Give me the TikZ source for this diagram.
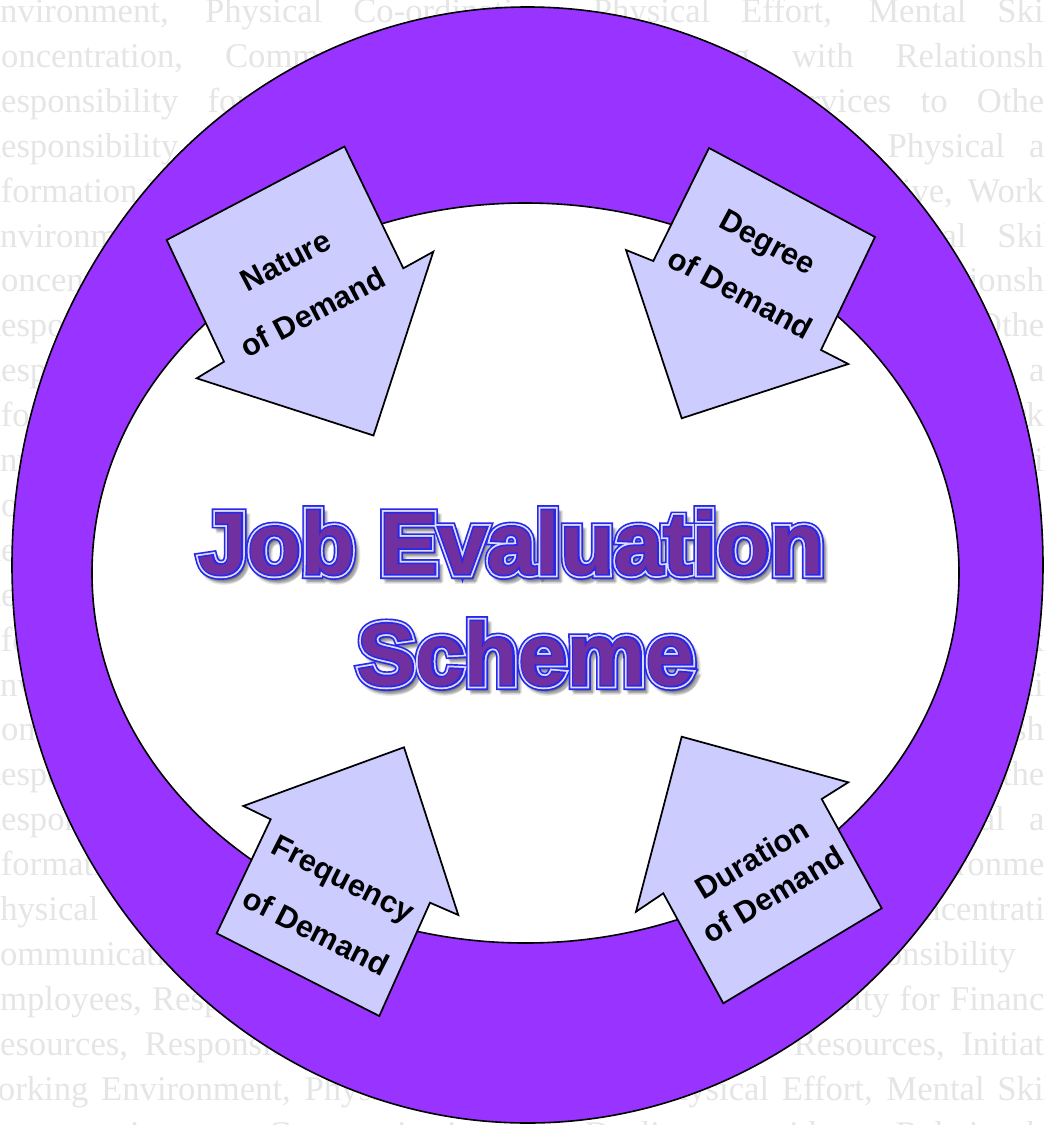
\documentclass[tikz,border=0pt]{standalone}
\usepackage{fontspec}
\setmainfont{Liberation Serif}
\newfontfamily\labelsans{Liberation Sans}
% title layers: the same bold face, stroked by different amounts
\newfontfamily\ttlouter{Liberation Sans}[BoldFeatures={FakeBold=11.5}]
\newfontfamily\ttlmid{Liberation Sans}[BoldFeatures={FakeBold=7.7}]
\newfontfamily\ttlinner{Liberation Sans}[BoldFeatures={FakeBold=3.7}]
\newfontfamily\ttlshadow{Liberation Sans}[BoldFeatures={FakeBold=9}]

\definecolor{ringviolet}{RGB}{153,51,255}
\definecolor{arrowfill}{RGB}{204,204,255}
\definecolor{titlefill}{RGB}{112,48,160}
\definecolor{titleblue}{RGB}{40,40,235}
\definecolor{titlelight}{RGB}{220,220,255}
\definecolor{bgtextgray}{RGB}{229,229,229}

\newdimen\pxu \pxu=0.75pt
\newcommand\bgfont{\fontsize{26}{30}\selectfont}
\newcommand\titlesize{\fontsize{66}{72}\selectfont}

% one justified line of the background paragraph
\newcommand\bgline[4]{%
  \node[bgtext] (bg#1) at (#2,{22.5+44.9*#1}) {\makebox[#3\pxu][s]{#4}};}
% a line whose slack sits in one place only
\newcommand\bglinefill[4]{%
  \node[bgtext] (bg#1) at (#2,{22.5+44.9*#1}) {\makebox[#3\pxu][l]{#4}};}

\newcommand\gapB{\hspace{31.5pt}}
\newcommand\txtA{Environment, Physical Co-ordination, Physical Effort, Mental Skills,}
\newcommand\txtB{Concentration,\gapB Communication,\hfill Dealing\gapB with\gapB Relationships,}
\newcommand\txtC{Responsibility for Employees, Responsibility for Services to Others,}
\newcommand\txtD{Responsibility for Financial Resources, Responsibility for Physical and}
\newcommand\txtE{Information Resources,\hfill Initiative,\hspace{11pt}Working}

% one line of the stroked title: shadow, blue/light/blue outline, purple face
\newcommand\titleline[4]{%
  \begin{scope}[opacity=0.09]
    \foreach \dx/\dy [count=\i] in {1/2,2/3,3/4,4/5,3/6,5/4}
      \node[titlelayer, text=black] (#1-shadow\i) at (#2+\dx,#3+\dy) {\ttlshadow\bfseries\titlesize #4};
  \end{scope}
  \node[titlelayer, text=titleblue] (#1-outer) at (#2,#3) {\ttlouter\bfseries\titlesize #4};
  \node[titlelayer, text=titlelight] (#1-mid) at (#2,#3) {\ttlmid\bfseries\titlesize #4};
  \node[titlelayer, text=titleblue] (#1-inner) at (#2,#3) {\ttlinner\bfseries\titlesize #4};
  \node[titlelayer, text=titlefill] (#1) at (#2,#3) {\labelsans\bfseries\titlesize #4};}

\tikzset{
  bgtext/.style={inner sep=0, outer sep=0, anchor=base west, text=bgtextgray, font=\bgfont},
  ringshape/.style={fill=ringviolet, draw=black, line width=1.2pt},
  innershape/.style={fill=white, draw=black, line width=1.2pt},
  blockarrow/.style={fill=arrowfill, draw=black, line width=1.3pt, line join=miter},
  arrowlabel/.style={inner sep=0, align=center},
  titlelayer/.style={inner sep=0, outer sep=0, anchor=base},
}

\begin{document}
\begin{tikzpicture}[x=0.75pt, y=-0.75pt]
\useasboundingbox (0,0) rectangle (1045,1125);
\clip (0,0) rectangle (1045,1125);

% faint paragraph behind everything
\bgline{0}{-21}{1106}{\txtA}
\bglinefill{1}{-22}{1115}{\txtB}
\bgline{2}{-22}{1100}{\txtC}
\bgline{3}{-22}{1101}{\txtD}
\bglinefill{4}{-28}{1116}{\txtE}
\bgline{5}{-21}{1106}{\txtA}
\bglinefill{6}{-22}{1115}{\txtB}
\bgline{7}{-22}{1100}{\txtC}
\bgline{8}{-22}{1101}{\txtD}
\bglinefill{9}{-28}{1116}{\txtE}
\bgline{10}{-21}{1106}{\txtA}
\bglinefill{11}{-22}{1115}{\txtB}
\bgline{12}{-22}{1100}{\txtC}
\bgline{13}{-22}{1101}{\txtD}
\bglinefill{14}{-28}{1116}{\txtE}
\bgline{15}{-21}{1106}{\txtA}
\bglinefill{16}{-22}{1115}{\txtB}
\bgline{17}{-22}{1100}{\txtC}
\bgline{18}{-22}{1101}{\txtD}
\bgline{19}{-28}{1108}{Information Resources, Initiative, Working Environment,}
\bgline{20}{-19}{1107}{Physical Co-ordination, Physical Effort, Mental Skills, Concentration,}
\bgline{21}{-23}{1133}{Communication, Dealing with Relationships, Responsibility for}
\bgline{22}{-21}{1100}{Employees, Responsibility for Services to Others, Responsibility for Financial}
\bgline{23}{-23}{1118}{Resources, Responsibility for Physical and Information Resources, Initiative,}
\bgline{24}{-32}{1117}{Working Environment, Physical Co-ordination, Physical Effort, Mental Skills,}
\bgline{25}{-22}{1115}{Concentration, Communication, Dealing with Relationships,}

% violet ring around a white oval
\path[ringshape] (527.5,565) ellipse [x radius=515.5, y radius=558];
\path[innershape] (525.5,573) ellipse [x radius=433.5, y radius=370];

% four block arrows
\draw[blockarrow] (166.7,240) -- (344.5,146.5) -- (403.3,268.3) -- (433.3,251.7)
  -- (373.5,435.5) -- (196.7,378.3) -- (224,361.7) -- cycle;
\draw[blockarrow] (709,148) -- (875,237) -- (821,350) -- (848.3,364)
  -- (681.7,418.3) -- (626,250) -- (653.3,261) -- cycle;
\draw[blockarrow] (216.7,933.3) -- (270.7,819.3) -- (243.3,806) -- (404,747.3)
  -- (458.3,915) -- (430,902.7) -- (379.3,1016) -- cycle;
\draw[blockarrow] (723.3,1003.3) -- (663.3,893.3) -- (636,911.7) -- (681.7,736.7)
  -- (848.3,782.3) -- (821.7,799) -- (881.7,908.3) -- cycle;

\node[arrowlabel, rotate=27.7, font={\labelsans\bfseries\fontsize{23}{43.5}\selectfont}]
  (nature) at (299.2,286.7) {Nature\\of Demand};
\node[arrowlabel, rotate=-28.2, font={\labelsans\bfseries\fontsize{23}{43.4}\selectfont}]
  (degree) at (754.2,267.8) {Degree\\of Demand};
\node[arrowlabel, rotate=-27, font={\labelsans\bfseries\fontsize{23}{45}\selectfont}]
  (frequency) at (329.5,905) {Frequency\\of Demand};
\node[arrowlabel, rotate=31, font={\labelsans\bfseries\fontsize{23}{31}\selectfont}]
  (duration) at (762.5,876.7) {Duration\\of Demand};

% title
\titleline{job}{511.5}{574}{Job Evaluation}
\titleline{scheme}{526}{685}{Scheme}
\end{tikzpicture}
\end{document}
